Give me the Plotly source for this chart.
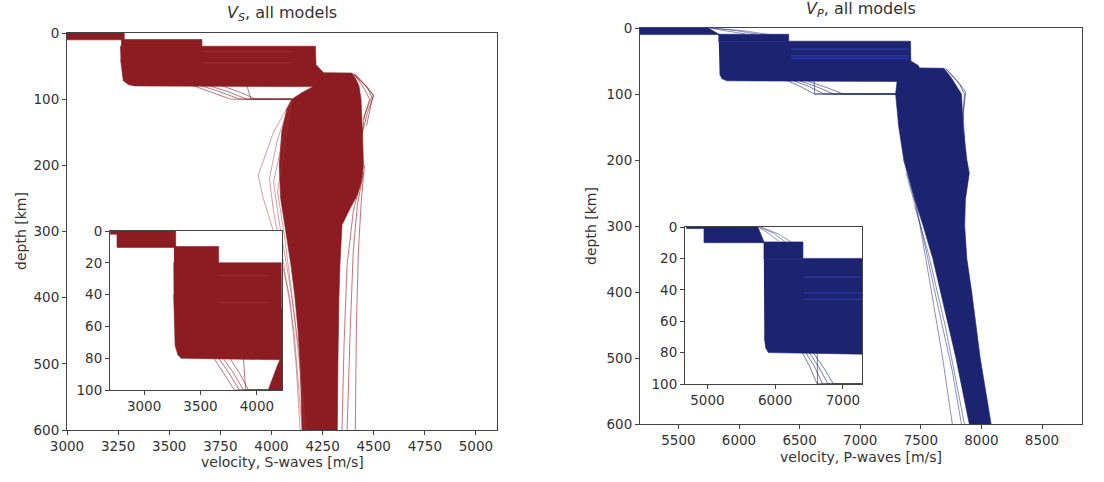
import plotly.graph_objects as go

# ---------------------------------------------------------------------------
# Ensemble of 1-D velocity models (depth in km, velocity in m/s).
# Dense parts of the ensemble are given as envelope outlines, individual
# outlying models as separate profiles.
# ---------------------------------------------------------------------------

# S-wave ensemble envelopes
S_LAYER1_V = [2700, 3280, 3280, 2760, 2760, 2700]
S_LAYER1_D = [0, 0, 10.3, 10.3, 2, 2]
S_LAYER2_V = [3265, 3660, 3660, 3265]
S_LAYER2_D = [9.8, 9.8, 20.3, 20.3]
S_BODY_V = [3260, 4215, 4218, 4248, 4255, 4392, 4410, 4428, 4438, 4445, 4450,
            4440, 4420, 4385, 4345, 4335, 4330, 4325, 4322,
            4150, 4145, 4140, 4130, 4115, 4095, 4070, 4045, 4038, 4050, 4075,
            4100, 4150, 4185, 4205, 3330, 3300, 3275, 3262]
S_BODY_D = [20, 20, 48, 57, 60, 60.5, 68, 80, 100, 150, 200,
            225, 245, 265, 290, 350, 400, 500, 600,
            600, 550, 500, 450, 400, 350, 300, 250, 200, 150, 115,
            100, 90, 84, 81, 80, 78, 72, 40]

# S-wave individual profiles
S_DEEP_CRUST_V = [[3620, 3690, 3800, 4100], [3660, 3740, 3845, 4100],
                  [3700, 3790, 3880, 4100], [3760, 3850, 3925, 4100],
                  [3880, 3890, 3900, 4100]]
S_DEEP_CRUST_D = [[80, 88, 100, 100], [80, 88, 100, 100], [80, 89, 100, 100],
                  [80, 90, 100, 100], [80, 90, 100, 100]]
S_SLOW_MANTLE_V = [[4100, 4010, 3935, 3960, 4030, 4090, 4120, 4140],
                   [4100, 4030, 3990, 4010, 4060, 4110, 4150],
                   [4100, 4050, 4010, 4040, 4090, 4135, 4160],
                   [4100, 4060, 4030, 4065, 4110, 4170]]
S_SLOW_MANTLE_D = [[100, 150, 215, 250, 320, 400, 500, 600],
                   [100, 160, 220, 270, 350, 450, 600],
                   [100, 170, 225, 290, 380, 480, 600],
                   [100, 180, 240, 310, 420, 600]]
S_FAST_LID_V = [[4395, 4460, 4500, 4470, 4445], [4400, 4470, 4490, 4455, 4440],
                [4410, 4475, 4498, 4465], [4405, 4455, 4480, 4450]]
S_FAST_LID_D = [[61, 80, 95, 120, 150], [61, 82, 97, 125, 160],
                [62, 84, 93, 140], [62, 85, 100, 130]]
S_FAST_DEEP_V = [[4450, 4420, 4400, 4385, 4370], [4455, 4440, 4425, 4415, 4410],
                 [4440, 4400, 4370, 4355, 4345]]
S_FAST_DEEP_D = [[210, 260, 330, 450, 600], [200, 250, 330, 450, 600],
                 [220, 270, 350, 470, 600]]
S_STRIPE_V = [[3665, 4100], [3665, 4100]]
S_STRIPE_D = [[28, 28], [45, 45]]

# P-wave ensemble envelopes
P_LAYER1_V = [4690, 5745, 5840, 4950, 4950, 4690]
P_LAYER1_D = [0, 0, 10, 10, 1, 1]
P_LAYER2_V = [5830, 6410, 6410, 5830]
P_LAYER2_D = [9.5, 9.5, 20, 20]
P_BODY_V = [5833, 7415, 7418, 7480, 7488, 7690, 7750, 7790, 7835, 7850, 7880,
            7900, 7868, 7862, 7880, 7920, 7990, 8080,
            7900, 7790, 7660, 7600, 7520, 7450, 7360, 7318, 7292, 7300, 7304,
            5900, 5860, 5840]
P_BODY_D = [20, 20, 50, 57, 60.5, 61, 75, 87, 100, 150, 200,
            220, 260, 300, 350, 400, 500, 600,
            600, 500, 400, 350, 300, 260, 200, 150, 100, 85, 81,
            80, 77, 70]

# P-wave individual profiles
P_UPPER_GRAD_V = [[5750, 5900, 6050], [5770, 5980, 6150], [5790, 6050, 6250]]
P_UPPER_GRAD_D = [[0, 4, 9], [0, 4, 9.5], [0, 4.5, 10]]
P_DEEP_CRUST_V = [[6400, 6500, 6620, 7300], [6450, 6570, 6700, 7300],
                  [6500, 6640, 6780, 7300], [6560, 6720, 6860, 7300],
                  [6620, 6620, 6625, 7300]]
P_DEEP_CRUST_D = [[80, 88, 100, 100], [80, 88, 100, 100], [80, 89, 100, 100],
                  [80, 90, 100, 100], [80, 90, 100, 100]]
P_SLOW_MANTLE_V = [[7360, 7470, 7570, 7680, 7760], [7380, 7500, 7640, 7760, 7835],
                   [7450, 7560, 7700, 7860]]
P_SLOW_MANTLE_D = [[200, 275, 380, 500, 600], [220, 300, 420, 520, 600],
                   [270, 340, 450, 600]]
P_FAST_LID_V = [[7700, 7800, 7870, 7850, 7860], [7710, 7820, 7860, 7845]]
P_FAST_LID_D = [[61, 80, 97, 130, 170], [62, 85, 100, 140]]
P_STRIPE_V = [[6430, 7400], [6430, 7400], [6430, 7400]]
P_STRIPE_D = [[32, 32], [42, 42], [46, 46]]

# Axis ticks
S_TICKS = [3000, 3250, 3500, 3750, 4000, 4250, 4500, 4750, 5000]
P_TICKS = [5500, 6000, 6500, 7000, 7500, 8000, 8500]
DEPTH_TICKS = [0, 100, 200, 300, 400, 500, 600]
S_INSET_TICKS = [3000, 3500, 4000]
P_INSET_TICKS = [5000, 6000, 7000]
INSET_DEPTH_TICKS = [0, 20, 40, 60, 80, 100]

RED = "#8c1c22"
BLUE = "#1c2472"
FONT = "DejaVu Sans"
AXC = "#444444"
TXT = "#333333"

fig = go.Figure()


def add_fill(v, d, color, axes):
    for xa, ya in axes:
        fig.add_trace(go.Scatter(x=v, y=d, mode="lines", fill="toself",
                                 fillcolor=color, line=dict(color=color, width=0.6),
                                 xaxis=xa, yaxis=ya, hoverinfo="skip",
                                 showlegend=False))


def add_lines(vs, ds, color, axes, width=0.8, opacity=0.75):
    for v, d in zip(vs, ds):
        for xa, ya in axes:
            fig.add_trace(go.Scatter(x=v, y=d, mode="lines",
                                     line=dict(color=color, width=width),
                                     opacity=opacity, xaxis=xa, yaxis=ya,
                                     hoverinfo="skip", showlegend=False))


S_AXES = [("x", "y"), ("x3", "y3")]
P_AXES = [("x2", "y2"), ("x4", "y4")]

# S-waves
add_fill(S_LAYER1_V, S_LAYER1_D, RED, S_AXES)
add_fill(S_LAYER2_V, S_LAYER2_D, RED, S_AXES)
add_fill(S_BODY_V, S_BODY_D, RED, S_AXES)
add_lines(S_DEEP_CRUST_V, S_DEEP_CRUST_D, RED, S_AXES)
add_lines(S_SLOW_MANTLE_V, S_SLOW_MANTLE_D, "#b3323a", S_AXES, opacity=0.6)
add_lines(S_FAST_LID_V, S_FAST_LID_D, RED, S_AXES)
add_lines(S_FAST_DEEP_V, S_FAST_DEEP_D, "#a8262d", S_AXES, opacity=0.8)
add_lines(S_STRIPE_V, S_STRIPE_D, "#a3323a", S_AXES, width=1.5, opacity=0.6)

# P-waves
add_fill(P_LAYER1_V, P_LAYER1_D, BLUE, P_AXES)
add_fill(P_LAYER2_V, P_LAYER2_D, BLUE, P_AXES)
add_fill(P_BODY_V, P_BODY_D, BLUE, P_AXES)
add_lines(P_UPPER_GRAD_V, P_UPPER_GRAD_D, BLUE, P_AXES, opacity=0.6)
add_lines(P_DEEP_CRUST_V, P_DEEP_CRUST_D, BLUE, P_AXES)
add_lines(P_SLOW_MANTLE_V, P_SLOW_MANTLE_D, "#2e3a8c", P_AXES, opacity=0.7)
add_lines(P_FAST_LID_V, P_FAST_LID_D, BLUE, P_AXES)
add_lines(P_STRIPE_V, P_STRIPE_D, "#2b3ab4", P_AXES, width=1.6, opacity=0.8)

W, H = 1104, 482


def xdom(a, b):
    return [a / W, b / W]


def ydom(top, bottom):
    return [1 - bottom / H, 1 - top / H]


def axis_style(**kw):
    base = dict(showgrid=False, zeroline=False, showline=True, mirror=True,
                automargin=False,
                linecolor=AXC, linewidth=1, ticks="outside", ticklen=4,
                tickcolor=AXC, tickfont=dict(family=FONT, size=13.5, color=TXT))
    base.update(kw)
    return base


fig.update_layout(
    width=W, height=H, margin=dict(l=0, r=0, t=0, b=0, autoexpand=False),
    paper_bgcolor="white", plot_bgcolor="white",
    xaxis=axis_style(domain=xdom(67, 497), anchor="y", range=[3000, 5103],
                     tickvals=S_TICKS),
    yaxis=axis_style(domain=ydom(33, 430), anchor="x", range=[600, 0],
                     tickvals=DEPTH_TICKS),
    xaxis2=axis_style(domain=xdom(640, 1082), anchor="y2", range=[5183, 8830],
                      tickvals=P_TICKS),
    yaxis2=axis_style(domain=ydom(28, 424), anchor="x2", range=[600, 0],
                      tickvals=DEPTH_TICKS),
    xaxis3=axis_style(domain=xdom(110, 282), anchor="y3", range=[2698, 4222],
                      tickvals=S_INSET_TICKS),
    yaxis3=axis_style(domain=ydom(231, 390), anchor="x3", range=[100, 0],
                      tickvals=INSET_DEPTH_TICKS),
    xaxis4=axis_style(domain=xdom(685, 862), anchor="y4", range=[4670, 7281],
                      tickvals=P_INSET_TICKS),
    yaxis4=axis_style(domain=ydom(227, 384), anchor="x4", range=[100, 0],
                      tickvals=INSET_DEPTH_TICKS),
)

labels = [
    dict(text="<i>V</i><sub><i>S</i></sub>, all models", x=282, y=13, size=16, angle=0),
    dict(text="<i>V</i><sub><i>P</i></sub>, all models", x=861, y=9, size=16, angle=0),
    dict(text="velocity, S-waves [m/s]", x=282, y=462, size=14, angle=0),
    dict(text="velocity, P-waves [m/s]", x=861, y=457, size=14, angle=0),
    dict(text="depth [km]", x=21, y=231, size=14, angle=-90),
    dict(text="depth [km]", x=591, y=226, size=14, angle=-90),
]
for lab in labels:
    fig.add_annotation(text=lab["text"], x=lab["x"] / W, y=1 - lab["y"] / H,
                       xref="paper", yref="paper", showarrow=False,
                       textangle=lab["angle"], xanchor="center", yanchor="middle",
                       font=dict(family=FONT, size=lab["size"], color=TXT))

fig.write_html("out.html")
